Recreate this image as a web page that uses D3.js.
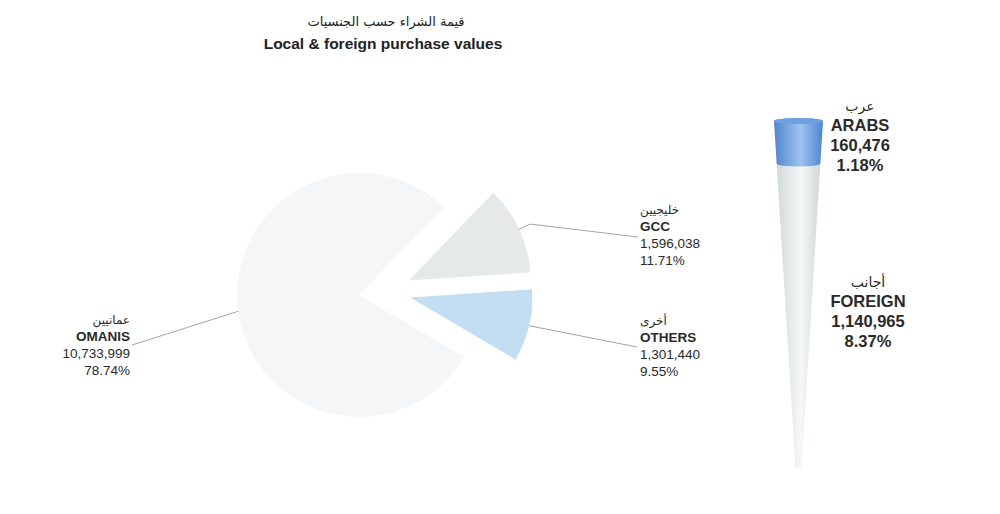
<!DOCTYPE html>
<html>
<head>
<meta charset="utf-8">
<script src="https://cdn.jsdelivr.net/npm/d3@7"></script>
<style>
  html, body { margin: 0; padding: 0; background: #ffffff; }
  svg { display: block; font-family: "Liberation Sans", Arial, "DejaVu Sans", sans-serif; }
</style>
</head>
<body>
<svg id="chart" width="1000" height="514"></svg>
<script>
// ---------- DATA ----------
const titleArabic = "قيمة الشراء حسب الجنسيات";
const titleEnglish = "Local & foreign purchase values";

const pieCategories = ["GCC", "OTHERS", "OMANIS"];
const pieArabic = ["خليجيين", "أخرى", "عمانيين"];
const pieValues = [1596038, 1301440, 10733999];
const piePercents = ["11.71%", "9.55%", "78.74%"];

const coneCategories = ["ARABS", "FOREIGN"];
const coneArabic = ["عرب", "أجانب"];
const coneValues = [160476, 1140965];
const conePercents = ["1.18%", "8.37%"];

// ---------- SETUP ----------
const svg = d3.select("#chart");
const fmt = d3.format(",");
const defs = svg.append("defs");

// Title
svg.append("text").attr("x", 386).attr("y", 26).attr("text-anchor", "middle")
  .attr("font-size", 13).attr("fill", "#222").attr("font-family", "DejaVu Sans, sans-serif")
  .text(titleArabic);
svg.append("text").attr("x", 383).attr("y", 49).attr("text-anchor", "middle")
  .attr("font-size", 15.5).attr("font-weight", "bold").attr("fill", "#222")
  .text(titleEnglish);

// ---------- PIE ----------
const pieColors = ["#e5e9e7", "#c3ddf3", "#f4f6f7"];
const cx = 385, cy = 291.5, R = 122, explode = 26;
const deg = Math.PI / 180;
const pie = d3.pie().sort(null).startAngle(44 * deg).endAngle(404 * deg);
const arcs = pie(pieValues);
const arcGen = d3.arc().innerRadius(0).outerRadius(R);

const pieG = svg.append("g").attr("transform", `translate(${cx},${cy})`);
arcs.forEach((a, i) => {
  const mid = (a.startAngle + a.endAngle) / 2;
  const dx = explode * Math.sin(mid), dy = -explode * Math.cos(mid);
  pieG.append("path").attr("d", arcGen(a))
    .attr("transform", `translate(${dx},${dy})`)
    .attr("fill", pieColors[i]);
  a.off = [dx, dy];
  a.mid = mid;
});

// label layout (positions)
const labelAnchors = [
  { x: 640, y: 214, lineEnd: [638, 237], lineMidR: 134, align: "start" },
  { x: 640, y: 325, lineEnd: [637, 347], lineMidR: 124, align: "start" },
  { x: 130, y: 324, lineEnd: [132, 345], lineMidR: 123, align: "end" }
];

arcs.forEach((a, i) => {
  const L = labelAnchors[i];
  const p0 = [cx + a.off[0] + R * Math.sin(a.mid), cy + a.off[1] - R * Math.cos(a.mid)];
  const p1 = [cx + a.off[0] + L.lineMidR * Math.sin(a.mid), cy + a.off[1] - L.lineMidR * Math.cos(a.mid)];
  svg.append("path")
    .attr("d", d3.line()([p0, p1, L.lineEnd]))
    .attr("fill", "none").attr("stroke", "#9a9a9a").attr("stroke-width", 0.9);

  const g = svg.append("g").attr("text-anchor", L.align).attr("fill", "#2a2a2a");
  g.append("text").attr("x", L.x).attr("y", L.y).attr("font-size", 12)
    .attr("font-family", "DejaVu Sans, sans-serif").text(pieArabic[i]);
  g.append("text").attr("x", L.x).attr("y", L.y + 17).attr("font-size", 13.5)
    .attr("font-weight", "bold").text(pieCategories[i]);
  g.append("text").attr("x", L.x).attr("y", L.y + 34).attr("font-size", 13.5)
    .text(fmt(pieValues[i]));
  g.append("text").attr("x", L.x).attr("y", L.y + 51).attr("font-size", 13.5)
    .text(piePercents[i]);
});

// ---------- CONE ----------
const coneX = 798.5;
const coneTotal = d3.sum(coneValues);
const yCone = d3.scaleLinear().domain([0, coneTotal]).range([121, 468]);
const wCone = d3.scaleLinear().domain([0, coneTotal]).range([24.5, 3]);
const ry = 3;

function grad(id, edge, center) {
  const g = defs.append("linearGradient").attr("id", id)
    .attr("x1", "0%").attr("x2", "100%").attr("y1", "0%").attr("y2", "0%");
  g.append("stop").attr("offset", "0%").attr("stop-color", edge);
  g.append("stop").attr("offset", "55%").attr("stop-color", center);
  g.append("stop").attr("offset", "100%").attr("stop-color", edge);
}
grad("gBlue", "#4e84cf", "#9ec4ef");
grad("gGray", "#d0d8d8", "#f6f8f8");
const coneFills = ["url(#gBlue)", "url(#gGray)"];
const coneCap = ["#6f9fe0", "#e6eaea"];

let cum = 0;
const segs = coneValues.map((v, i) => {
  const s = { v0: cum, v1: cum + v, i };
  cum += v;
  return s;
});

segs.slice().reverse().forEach(s => {
  const y0 = yCone(s.v0), y1 = yCone(s.v1);
  const w0 = wCone(s.v0), w1 = wCone(s.v1);
  const path = `M${coneX - w0},${y0} L${coneX - w1},${y1} A${w1},${ry * w1 / w0} 0 0 0 ${coneX + w1},${y1} L${coneX + w0},${y0} A${w0},${ry} 0 0 0 ${coneX - w0},${y0} Z`;
  svg.append("path").attr("d", path).attr("fill", coneFills[s.i]);
});
svg.append("ellipse").attr("cx", coneX).attr("cy", yCone(0)).attr("rx", wCone(0)).attr("ry", ry)
  .attr("fill", coneCap[0]);

// cone labels
const coneLabelPos = [{ x: 860, y: 111 }, { x: 868, y: 287 }];
segs.forEach(s => {
  const p = coneLabelPos[s.i];
  const g = svg.append("g").attr("text-anchor", "middle").attr("fill", "#2a2a2a");
  g.append("text").attr("x", p.x).attr("y", p.y).attr("font-size", 14)
    .attr("font-family", "DejaVu Sans, sans-serif").text(coneArabic[s.i]);
  g.append("text").attr("x", p.x).attr("y", p.y + 20).attr("font-size", 16.5).attr("font-weight", "bold")
    .text(coneCategories[s.i]);
  g.append("text").attr("x", p.x).attr("y", p.y + 40).attr("font-size", 16.5).attr("font-weight", "bold")
    .text(fmt(coneValues[s.i]));
  g.append("text").attr("x", p.x).attr("y", p.y + 60).attr("font-size", 16.5).attr("font-weight", "bold")
    .text(conePercents[s.i]);
});
</script>
</body>
</html>
